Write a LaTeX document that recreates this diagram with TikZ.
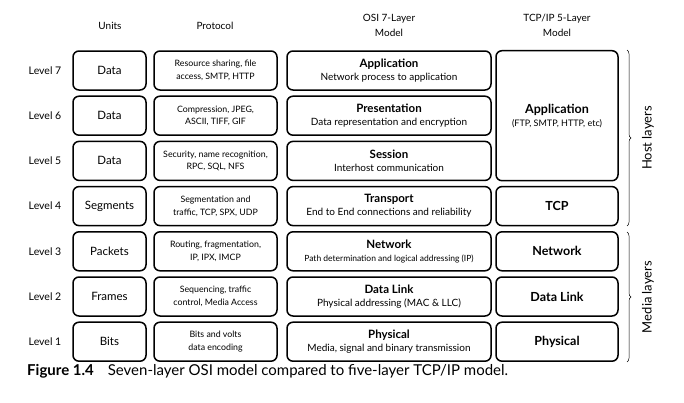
\documentclass[tikz,border=0pt]{standalone}
\usepackage{fontspec}
\setmainfont{Lato}
\usetikzlibrary{positioning, decorations.pathreplacing}
\tikzset{
    layerbox/.style={rectangle, draw, rounded corners=6pt, line width=1.5pt, minimum height=39pt, inner sep=1pt, align=center},
    unitbox/.style={layerbox, minimum width=73pt, font=\fontsize{11.5}{13}\selectfont},
    protobox/.style={layerbox, minimum width=123pt, font=\fontsize{8.8}{12.5}\selectfont},
    osibox/.style={layerbox, minimum width=204pt, font=\fontsize{10}{13}\selectfont},
    tcpbox/.style={layerbox, minimum width=122pt, font=\fontsize{9}{13}\selectfont},
    levellabel/.style={font=\fontsize{10.5}{12}\selectfont},
    headlabel/.style={align=center, font=\fontsize{10}{15}\selectfont},
    sidelabel/.style={rotate=90, font=\fontsize{13}{15}\selectfont},
    layerbrace/.style={decorate, decoration={brace, amplitude=4pt}, line width=0.5pt}
}
\newcommand{\ttl}[1]{{\fontsize{11.5}{13}\selectfont\bfseries #1}}
\newcommand{\tcpttl}[1]{{\fontsize{12.5}{14}\selectfont\bfseries #1}}

\begin{document}
\begin{tikzpicture}[x=1pt, y=-1pt]
  \useasboundingbox (0,0) rectangle (684,402);
  % headings
  \node[headlabel] (hunits) at (110, 26) {Units};
  \node[headlabel] (hproto) at (215, 26) {Protocol};
  \node[headlabel] (hosi) at (389, 25) {OSI 7-Layer\\Model};
  \node[headlabel] (htcp) at (557, 25) {TCP/IP 5-Layer\\Model};
  % levels
  \node[levellabel] (l7) at (45, 70.5) {Level 7};
  \node[levellabel] (l6) at (45, 115.7) {Level 6};
  \node[levellabel] (l5) at (45, 160.9) {Level 5};
  \node[levellabel] (l4) at (45, 206.1) {Level 4};
  \node[levellabel] (l3) at (45, 251.3) {Level 3};
  \node[levellabel] (l2) at (45, 296.5) {Level 2};
  \node[levellabel] (l1) at (45, 341.7) {Level 1};
  % units
  \node[unitbox] (u7) at (109.5, 70.5) {Data};
  \node[unitbox] (u6) at (109.5, 115.7) {Data};
  \node[unitbox] (u5) at (109.5, 160.9) {Data};
  \node[unitbox] (u4) at (109.5, 206.1) {Segments};
  \node[unitbox] (u3) at (109.5, 251.3) {Packets};
  \node[unitbox] (u2) at (109.5, 296.5) {Frames};
  \node[unitbox] (u1) at (109.5, 341.7) {Bits};
  % protocols
  \node[protobox] (p7) at (215.5, 70.5) {Resource sharing, file\\access, SMTP, HTTP};
  \node[protobox] (p6) at (215.5, 115.7) {Compression, JPEG,\\ASCII, TIFF, GIF};
  \node[protobox] (p5) at (215.5, 160.9) {Security, name recognition,\\RPC, SQL, NFS};
  \node[protobox] (p4) at (215.5, 206.1) {Segmentation and\\traffic, TCP, SPX, UDP};
  \node[protobox] (p3) at (215.5, 251.3) {Routing, fragmentation,\\IP, IPX, IMCP};
  \node[protobox] (p2) at (215.5, 296.5) {Sequencing, traffic\\control, Media Access};
  \node[protobox] (p1) at (215.5, 341.7) {Bits and volts\\data encoding};
  % OSI model
  \node[osibox] (o7) at (389, 70.5) {\ttl{Application}\\Network process to application};
  \node[osibox] (o6) at (389, 115.7) {\ttl{Presentation}\\Data representation and encryption};
  \node[osibox] (o5) at (389, 160.9) {\ttl{Session}\\Interhost communication};
  \node[osibox] (o4) at (389, 206.1) {\ttl{Transport}\\End to End connections and reliability};
  \node[osibox] (o3) at (389, 251.3) {\ttl{Network}\\{\fontsize{8.5}{10}\selectfont Path determination and logical addressing (IP)}};
  \node[osibox] (o2) at (389, 296.5) {\ttl{Data Link}\\Physical addressing (MAC \& LLC)};
  \node[osibox] (o1) at (389, 341.7) {\ttl{Physical}\\Media, signal and binary transmission};
  % TCP/IP model
  \node[tcpbox, minimum height=130pt] (t5) at (557, 115.7) {\tcpttl{Application}\\(FTP, SMTP, HTTP, etc)};
  \node[tcpbox] (t4) at (557, 206.1) {\tcpttl{TCP}};
  \node[tcpbox] (t3) at (557, 251.3) {\tcpttl{Network}};
  \node[tcpbox] (t2) at (557, 296.5) {\tcpttl{Data Link}};
  \node[tcpbox] (t1) at (557, 341.7) {\tcpttl{Physical}};
  % braces
  \coordinate (hosttop) at (627, 50);
  \coordinate (hostbot) at (627, 226);
  \coordinate (mediatop) at (627, 232);
  \coordinate (mediabot) at (627, 362);
  \draw[layerbrace] (hosttop) -- (hostbot);
  \draw[layerbrace] (mediatop) -- (mediabot);
  \node[sidelabel] (host) at (648, 138) {Host layers};
  \node[sidelabel] (media) at (648, 297) {Media layers};
  % caption
  \node[anchor=west, inner sep=0pt, font=\fontsize{15}{17}\selectfont] (caption) at (27, 371) {\textbf{Figure 1.4}\hspace{14pt}Seven-layer OSI model compared to five-layer TCP/IP model.};
\end{tikzpicture}
\end{document}
